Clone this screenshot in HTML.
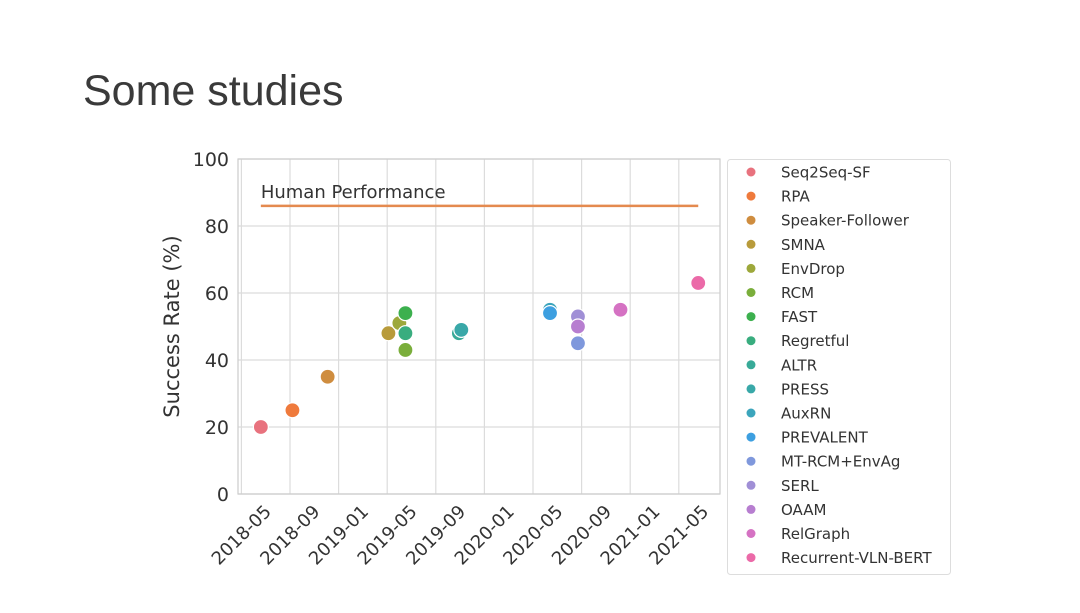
<!DOCTYPE html>
<html><head><meta charset="utf-8"><style>
body{margin:0;background:#fff;width:1080px;height:608px;overflow:hidden}
svg text{font-family:"DejaVu Sans","Liberation Sans",sans-serif}
</style></head><body>
<svg id="c" width="1080" height="608">
<text x="83" y="105" style="font-family:'Liberation Sans',sans-serif" font-size="43" fill="#3a3a3a">Some studies</text>
</svg>
<script>
const names=["Seq2Seq-SF","RPA","Speaker-Follower","SMNA","EnvDrop","RCM","FAST","Regretful","ALTR","PRESS","AuxRN","PREVALENT","MT-RCM+EnvAg","SERL","OAAM","RelGraph","Recurrent-VLN-BERT"];
const months=[5.6,8.2,11.1,16.1,17.0,17.5,17.5,17.5,21.9,22.1,29.4,29.4,31.7,31.7,31.7,35.2,41.6];
const rates=[20,25,35,48,51,43,54,48,48,49,55,54,45,53,50,55,63];
const colors=["#e8727e","#ef7a3c","#cf8d3f","#b89b3b","#9da83b","#7aae3b","#3cb04e","#39ad7f","#38aa98","#39a8a8","#3ca5bc","#3d9fe0","#7f98dc","#a08fd6","#b77ed0","#d572c3","#eb6aa8"];
const yTicks=[0,20,40,60,80,100];
const xTickLabels=["2018-05","2018-09","2019-01","2019-05","2019-09","2020-01","2020-05","2020-09","2021-01","2021-05"];
const xTickMonths=[4,8,12,16,20,24,28,32,36,40];
const humanPerf=86;
const humanRange=[5.6,41.6];

const NS="http://www.w3.org/2000/svg",svg=document.getElementById('c');
const L=238,R=720,T=159,B=494;
const x=m=>241.4+(m-4)*12.15;
const y=v=>B-(v/100)*(B-T);
function mk(t,a,p){const e=document.createElementNS(NS,t);for(const k in a)e.setAttribute(k,a[k]);(p||svg).appendChild(e);return e;}
yTicks.forEach(v=>{
  const g=mk('line',{x1:L,x2:R,y1:y(v),y2:y(v),stroke:'#dcdcdc','stroke-width':1.2});
  
  
  const t=mk('text',{x:L-9,y:y(v)+7,'text-anchor':'end','font-size':19,fill:'#333'});t.textContent=v;
  
  
});
xTickMonths.forEach((m,i)=>{
  if(x(m)>L+1){
    const g=mk('line',{x1:x(m),x2:x(m),y1:T,y2:B,stroke:'#dcdcdc','stroke-width':1.2});
    
    
  }
  const t=mk('text',{x:0,y:6,'text-anchor':'middle','font-size':18,fill:'#333',transform:`translate(${x(m)} 535) rotate(-45)`});t.textContent=xTickLabels[i];
  
  
});
const fr=mk('rect',{x:L,y:T,width:R-L,height:B-T,fill:'none',stroke:'#ccc','stroke-width':1.2});


const yt=mk('text',{x:0,y:0,'text-anchor':'middle','font-size':21,fill:'#333',transform:`translate(179 ${(T+B)/2}) rotate(-90)`});yt.textContent="Success Rate (%)";


const hl=mk('line',{x1:x(humanRange[0]),x2:x(humanRange[1]),y1:y(humanPerf),y2:y(humanPerf),stroke:'#e48a4f','stroke-width':2.5});


const ht=mk('text',{x:x(humanRange[0]),y:y(humanPerf)-8,'font-size':18,fill:'#333'});ht.textContent="Human Performance";


names.forEach((n,i)=>{
  const c=mk('circle',{cx:x(months[i]),cy:y(rates[i]),r:7.5,fill:colors[i],stroke:'#fff','stroke-width':1.2});
  
  
});
const lg=mk('rect',{x:727.5,y:159.5,width:223,height:415,rx:3,fill:'#fff',stroke:'#ddd'});


names.forEach((n,i)=>{
  const yy=172+i*24.1;
  const c=mk('circle',{cx:751,cy:yy,r:4.5,fill:colors[i]});
  
  
  const t=mk('text',{x:781,y:yy+5.5,'font-size':15,fill:'#333'});t.textContent=n;
  
  
});
</script>
</body></html>
